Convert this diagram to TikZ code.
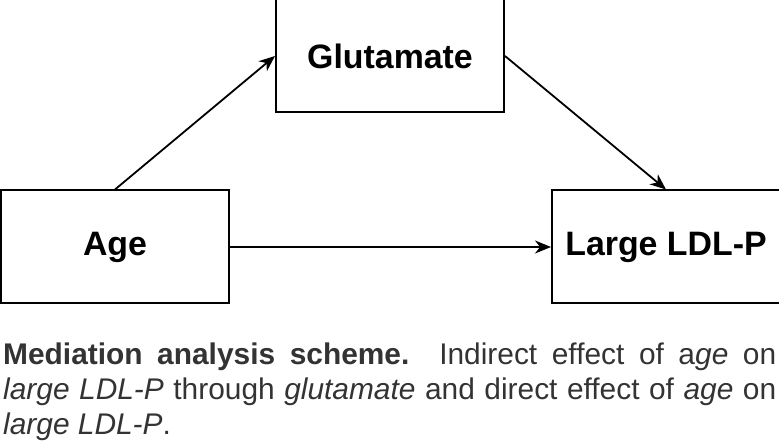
\documentclass[tikz,border=0pt]{standalone}
\usepackage{fontspec}
\setmainfont{Liberation Sans}
\usetikzlibrary{positioning, arrows.meta}

\begin{document}
\begin{tikzpicture}[
		x=1bp, y=1bp,
		node distance=76bp and 45bp,
		box/.style={draw, rectangle, line width=2bp, minimum width=228bp, minimum height=113bp, align=center, font=\fontsize{34}{40}\selectfont\bfseries},
		arrow/.style={-{Stealth[length=16bp, width=13bp, inset=5bp]}, line width=1.8bp}
		]
		\useasboundingbox (0,0) rectangle (779,443);
		
		% Nodes
		\node[box] (age) at (115,196) {Age};
		
		\node[box, right=321bp of age] (large) {Large LDL-P};
		
		\node[box, above right=of age] (glu) {Glutamate};
		
		% Arrows
		\draw[arrow] (age.north) -- (glu.west);
		\draw[arrow] (glu.east) -- (large.north);
		\draw[arrow] (age) -- (large);
		
		% Caption
		\node[anchor=north west, inner sep=0pt, text width=773bp, align=justify, font=\fontsize{30}{35}\selectfont, text=black!80] (caption) at (3,100)
		{\sloppy\textbf{Mediation analysis scheme.} Indirect effect of a\textit{ge} on\linebreak
		\textit{large LDL-P} through \textit{glutamate} and direct effect of \textit{age} on\linebreak
		\textit{large LDL-P}.};
		
	\end{tikzpicture}
\end{document}
